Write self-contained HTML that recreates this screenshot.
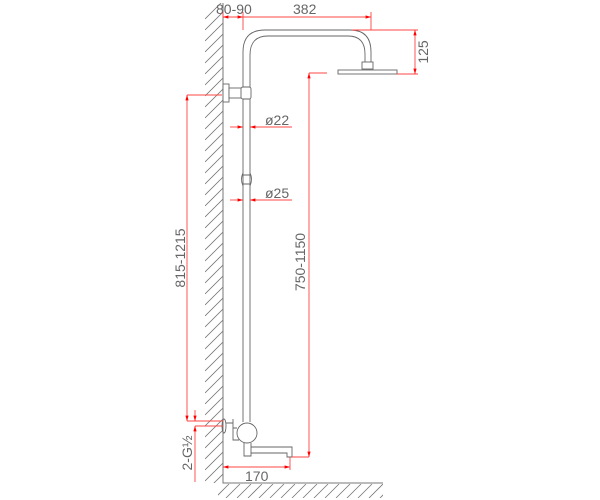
<!DOCTYPE html>
<html><head><meta charset="utf-8"><style>body{margin:0;background:#fff}svg{display:block}</style></head><body>
<svg width="600" height="500" viewBox="0 0 600 500" xmlns="http://www.w3.org/2000/svg" font-family="Liberation Sans, sans-serif">
<defs>
<marker id="a" viewBox="0 0 10 6" refX="10" refY="3" markerWidth="6" markerHeight="4" orient="auto-start-reverse"><path d="M0,0L10,3L0,6z" fill="#f00"/></marker>
<clipPath id="w"><rect x="205" y="3" width="18" height="480"/></clipPath>
<clipPath id="f"><rect x="218" y="484" width="165" height="14"/></clipPath>
</defs>
<!-- wall hatch -->
<g stroke="#777" stroke-width="0.8" clip-path="url(#w)">
<script></script>
</g>
<g id="hatch" stroke="#777" stroke-width="0.8" clip-path="url(#w)">
<path d="M205,19L223,1M205,30L223,12M205,41L223,23M205,52L223,34M205,63L223,45M205,74L223,56M205,85L223,67M205,96L223,78M205,107L223,89M205,118L223,100M205,129L223,111M205,140L223,122M205,151L223,133M205,162L223,144M205,173L223,155M205,184L223,166M205,195L223,177M205,206L223,188M205,217L223,199M205,228L223,210M205,239L223,221M205,250L223,232M205,261L223,243M205,272L223,254M205,283L223,265M205,294L223,276M205,305L223,287M205,316L223,298M205,327L223,309M205,338L223,320M205,349L223,331M205,360L223,342M205,371L223,353M205,382L223,364M205,393L223,375M205,404L223,386M205,415L223,397M205,426L223,408M205,437L223,419M205,448L223,430M205,459L223,441M205,470L223,452M205,481L223,463M205,492L223,474"/>
</g>
<g stroke="#777" stroke-width="0.8" clip-path="url(#f)">
<path d="M215,498L229,484M226,498L240,484M237,498L251,484M248,498L262,484M259,498L273,484M270,498L284,484M281,498L295,484M292,498L306,484M303,498L317,484M314,498L328,484M325,498L339,484M336,498L350,484M347,498L361,484M358,498L372,484M369,498L383,484M380,498L394,484"/>
</g>
<path d="M223,3V483H383" fill="none" stroke="#777" stroke-width="1"/>
<!-- pipe -->
<g fill="none" stroke="#666" stroke-width="0.9">
<path d="M243,422V52Q243,30 265,30H350Q371,30 371,52V62"/>
<path d="M250,422V55Q250,36 268,36H348Q365,36 365,54V62"/>
<rect x="362" y="62" width="11" height="7" fill="#fff"/>
<rect x="338" y="70" width="59" height="4" fill="#fff"/>
<rect x="223" y="84" width="6" height="18" fill="#fff"/>
<rect x="229" y="88" width="13" height="10" fill="#fff"/>
<rect x="241" y="87" width="10" height="12" rx="2" fill="#fff"/>
<path d="M243,173Q240,179 243,186M250,173Q253,179 250,186M243,175H250M243,184H250"/>
<circle cx="247" cy="433" r="10" fill="#fff"/>
<path d="M226,423H233V440H239M233,419V428H237"/>
<ellipse cx="224" cy="426" rx="2" ry="7"/>
<path d="M244,443V456H251V443M251,447H292V457H287V453H251"/>
</g>
<!-- red dims -->
<g stroke="#f44" stroke-width="0.9" fill="none">
<path d="M223,17H243" marker-start="url(#a)" marker-end="url(#a)"/>
<path d="M243,17H371" marker-end="url(#a)"/>
<path d="M243,12V30M371,12V30M223,12V17"/>
<path d="M352,30H418M397,74H418"/>
<path d="M415,30V74" marker-start="url(#a)" marker-end="url(#a)"/>
<path d="M187,95H222"/>
<path d="M187,95V421" marker-start="url(#a)" marker-end="url(#a)"/>
<path d="M187,421H223M195,426H223"/>
<path d="M195,410V421" marker-end="url(#a)"/>
<path d="M195,440V426" marker-end="url(#a)"/>
<path d="M195,440V482"/>
<path d="M309,73H327"/>
<path d="M309,73V457" marker-start="url(#a)" marker-end="url(#a)"/>
<path d="M292,457H309"/>
<path d="M230,127H243" marker-end="url(#a)"/>
<path d="M292,127H250" marker-end="url(#a)"/>
<path d="M230,200H243" marker-end="url(#a)"/>
<path d="M292,200H250" marker-end="url(#a)"/>
<path d="M223,467H290" marker-start="url(#a)" marker-end="url(#a)"/>
<path d="M290,457V470"/>
</g>
<g fill="#666" font-size="14">
<text x="216" y="14" >80-90</text>
<text x="293" y="14">382</text>
<text x="265" y="125">ø22</text>
<text x="265" y="198">ø25</text>
<text x="245" y="481">170</text>
<text transform="translate(428,52) rotate(-90)" text-anchor="middle">125</text>
<text transform="translate(185,258) rotate(-90)" text-anchor="middle">815-1215</text>
<text transform="translate(305,262) rotate(-90)" text-anchor="middle">750-1150</text>
<text transform="translate(192,453) rotate(-90)" text-anchor="middle">2-G½</text>
</g>
</svg>
</body></html>
